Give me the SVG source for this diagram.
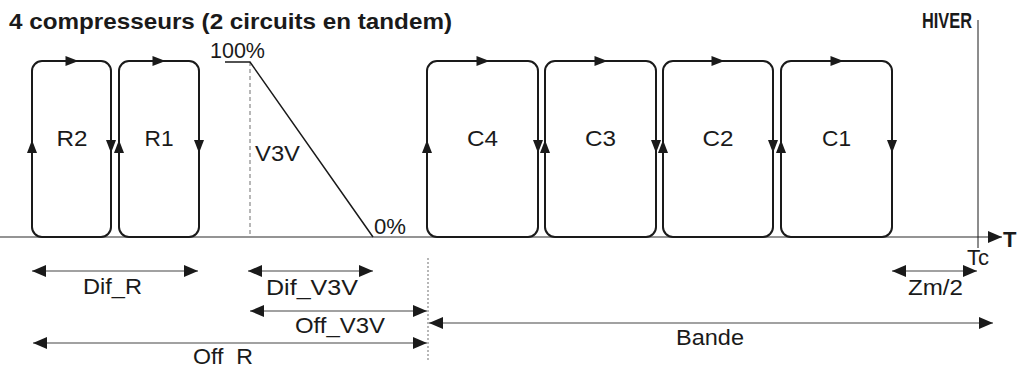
<svg xmlns="http://www.w3.org/2000/svg" xmlns:xlink="http://www.w3.org/1999/xlink" width="1017" height="367" viewBox="0 0 1017 367">
<style>
text{font-family:"Liberation Sans",Arial,sans-serif;fill:#1a1a1a;font-size:22px}
.b{font-weight:bold}
.lbl{text-anchor:middle}
.loop{fill:none;stroke:#1a1a1a;stroke-width:2}
.tri{fill:#1a1a1a}
.dim{stroke:#444;stroke-width:1.2;fill:none;marker-start:url(#ah);marker-end:url(#ah)}
</style>
<defs>
<path id="tri" d="M6.5,0 L-6.5,-5 L-6.5,5 Z"/>
<marker id="ah" viewBox="0 0 14 12" refX="14" refY="6" markerWidth="14" markerHeight="12" markerUnits="userSpaceOnUse" orient="auto-start-reverse">
<path d="M0,0 L14,6 L0,12 Z" fill="#1a1a1a"/>
</marker>
<marker id="axh" viewBox="0 0 14 12" refX="14" refY="6" markerWidth="14" markerHeight="12" markerUnits="userSpaceOnUse" orient="auto">
<path d="M0,0 L14,6 L0,12 Z" fill="#1a1a1a"/>
</marker>
</defs>
<rect width="1017" height="367" fill="#fff"/>
<text class="b" x="9" y="29" font-size="17" textLength="443" lengthAdjust="spacingAndGlyphs">4 compresseurs (2 circuits en tandem)</text>
<g id="axis">
<line x1="0" y1="237" x2="1002" y2="237" stroke="#707070" stroke-width="1.5" marker-end="url(#axh)"/>
<text class="b" x="1003" y="247" font-size="23">T</text>
</g>
<g id="hiver">
<line x1="978" y1="20" x2="978" y2="248" stroke="#1a1a1a" stroke-width="1"/>
<text class="b" x="922" y="28" font-size="17" textLength="50" lengthAdjust="spacingAndGlyphs">HIVER</text>
</g>
<g id="R2">
<rect class="loop" x="32" y="61" width="79" height="176" rx="10"/>
<use href="#tri" class="tri" transform="translate(72,61)"/>
<use href="#tri" class="tri" transform="translate(32,146.5) rotate(-90)"/>
<use href="#tri" class="tri" transform="translate(111,146.5) rotate(90)"/>
<text class="lbl" x="72" y="146" textLength="31" lengthAdjust="spacingAndGlyphs">R2</text>
</g>
<g id="R1">
<rect class="loop" x="119" y="61" width="80" height="176" rx="10"/>
<use href="#tri" class="tri" transform="translate(159,61)"/>
<use href="#tri" class="tri" transform="translate(119,146.5) rotate(-90)"/>
<use href="#tri" class="tri" transform="translate(199,146.5) rotate(90)"/>
<text class="lbl" x="159" y="146" textLength="29" lengthAdjust="spacingAndGlyphs">R1</text>
</g>
<g id="V3V">
<line x1="250" y1="62" x2="250" y2="237" stroke="#888" stroke-width="1.2" stroke-dasharray="4,3"/>
<polyline points="225,62 250,62 373,237" fill="none" stroke="#1a1a1a" stroke-width="1.5"/>
<text x="210" y="58" textLength="55" lengthAdjust="spacingAndGlyphs">100%</text>
<text x="255" y="161" textLength="45" lengthAdjust="spacingAndGlyphs">V3V</text>
<text x="374" y="234" textLength="32" lengthAdjust="spacingAndGlyphs">0%</text>
</g>
<g id="C4">
<rect class="loop" x="427" y="61" width="111" height="176" rx="10"/>
<use href="#tri" class="tri" transform="translate(483,61)"/>
<use href="#tri" class="tri" transform="translate(427,146.5) rotate(-90)"/>
<use href="#tri" class="tri" transform="translate(538,146.5) rotate(90)"/>
<text class="lbl" x="482.5" y="146" textLength="31" lengthAdjust="spacingAndGlyphs">C4</text>
</g>
<g id="C3">
<rect class="loop" x="545" y="61" width="111" height="176" rx="10"/>
<use href="#tri" class="tri" transform="translate(601,61)"/>
<use href="#tri" class="tri" transform="translate(545,146.5) rotate(-90)"/>
<use href="#tri" class="tri" transform="translate(656,146.5) rotate(90)"/>
<text class="lbl" x="600.5" y="146" textLength="31" lengthAdjust="spacingAndGlyphs">C3</text>
</g>
<g id="C2">
<rect class="loop" x="663" y="61" width="110" height="176" rx="10"/>
<use href="#tri" class="tri" transform="translate(718,61)"/>
<use href="#tri" class="tri" transform="translate(663,146.5) rotate(-90)"/>
<use href="#tri" class="tri" transform="translate(773,146.5) rotate(90)"/>
<text class="lbl" x="718" y="146" textLength="31" lengthAdjust="spacingAndGlyphs">C2</text>
</g>
<g id="C1">
<rect class="loop" x="781" y="61" width="111" height="176" rx="10"/>
<use href="#tri" class="tri" transform="translate(837,61)"/>
<use href="#tri" class="tri" transform="translate(781,146.5) rotate(-90)"/>
<use href="#tri" class="tri" transform="translate(892,146.5) rotate(90)"/>
<text class="lbl" x="836.5" y="146" textLength="29" lengthAdjust="spacingAndGlyphs">C1</text>
</g>
<g id="connectors">
<line x1="428" y1="258" x2="428" y2="360" stroke="#888" stroke-width="1.2" stroke-dasharray="2,2"/>
<line class="dim" x1="32" y1="271" x2="198" y2="271"/>
<line class="dim" x1="248" y1="271" x2="373" y2="271"/>
<line class="dim" x1="250" y1="311" x2="427" y2="311"/>
<line class="dim" x1="33" y1="343" x2="427" y2="343"/>
<line class="dim" x1="429" y1="323" x2="993" y2="323"/>
<line class="dim" x1="892" y1="271" x2="977" y2="271"/>
</g>
<g id="dimlabels">
<text x="83" y="294" textLength="59" lengthAdjust="spacingAndGlyphs">Dif_R</text>
<text x="266" y="295" textLength="92" lengthAdjust="spacingAndGlyphs">Dif_V3V</text>
<text x="295" y="333" textLength="90" lengthAdjust="spacingAndGlyphs">Off_V3V</text>
<text x="193" y="364" textLength="60" lengthAdjust="spacingAndGlyphs" xml:space="preserve">Off  R</text>
<text x="676" y="345" textLength="68" lengthAdjust="spacingAndGlyphs">Bande</text>
<text x="908" y="295" textLength="55" lengthAdjust="spacingAndGlyphs">Zm/2</text>
<text x="967" y="265" textLength="22" lengthAdjust="spacingAndGlyphs">Tc</text>
</g>
</svg>
